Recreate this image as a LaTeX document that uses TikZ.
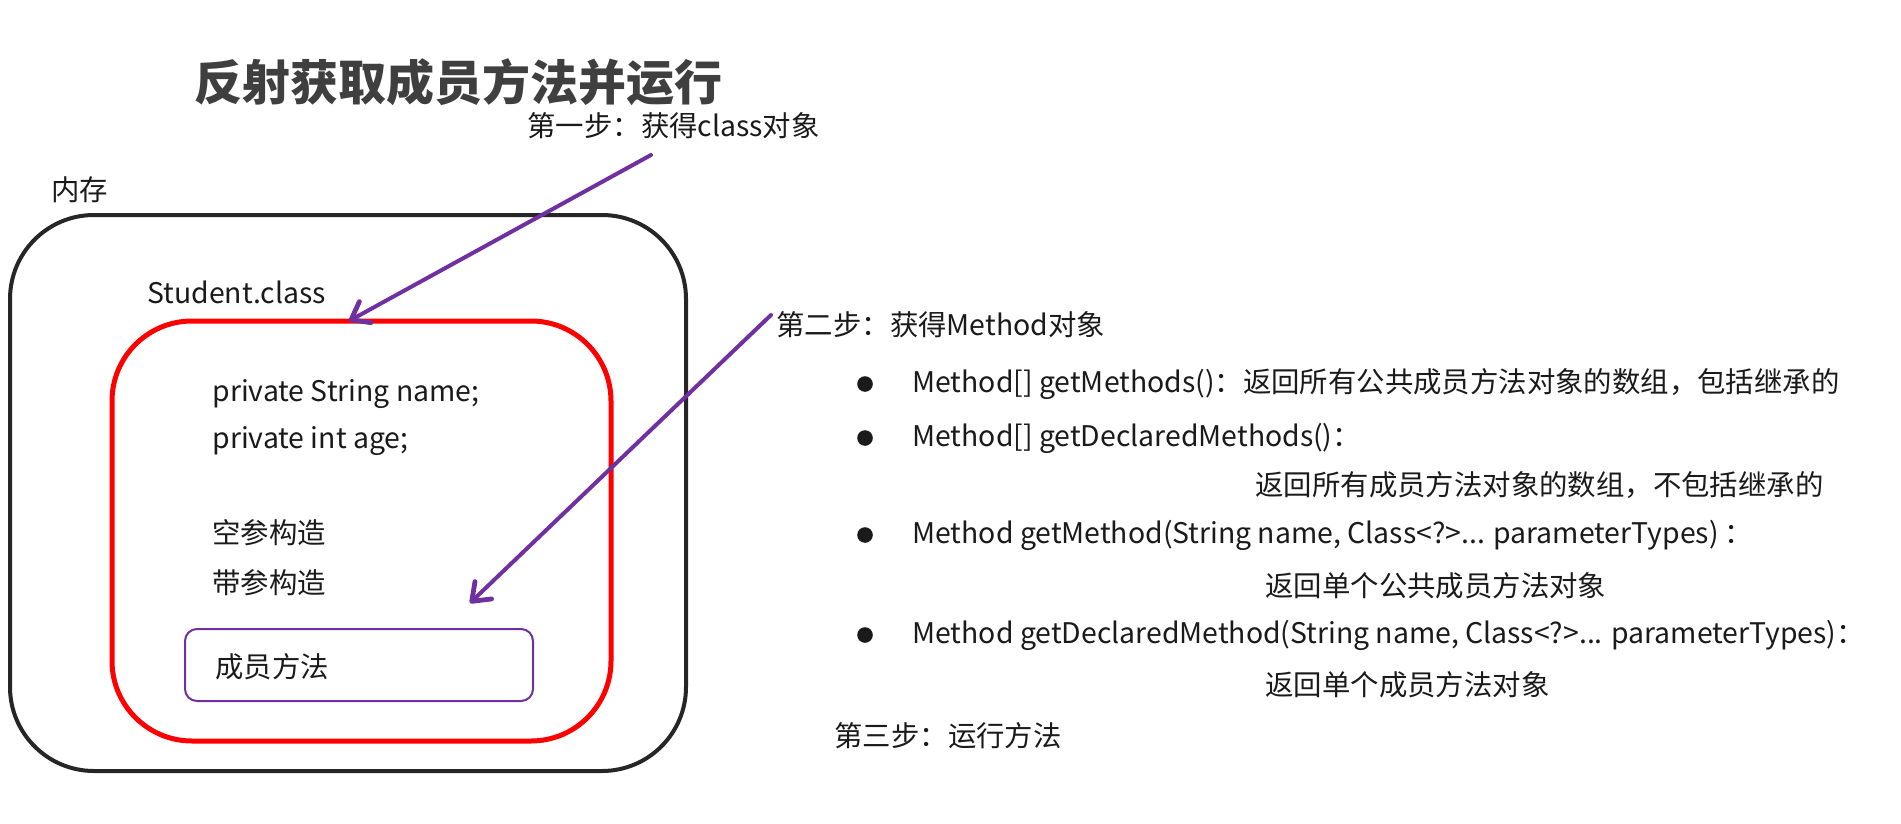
\documentclass[tikz,border=0pt]{standalone}
\usepackage{fontspec}
\setmainfont{Noto Sans CJK SC}
\usetikzlibrary{arrows.meta}
\definecolor{Mem_Black}{HTML}{262626}
\definecolor{Cls_Red}{HTML}{FF0000}
\definecolor{Step_Purple}{HTML}{7030A0}
\definecolor{Title_Gray}{HTML}{3F3F3F}
\definecolor{Txt_Black}{HTML}{1A1A1A}

\tikzset{
  txt/.style={anchor=west, inner sep=0pt, text=Txt_Black, font=\fontsize{14.2pt}{16pt}\selectfont},
  steparrow/.style={draw=Step_Purple, line width=2pt, line cap=round,
    -{Straight Barb[length=8pt,width=12pt,line width=2.4pt,round]}},
}

\begin{document}
\begin{tikzpicture}[x=0.5pt, y=-0.5pt]
    \useasboundingbox (0,0) rectangle (1901,824);

    % === Title ===
    \node[anchor=west, inner sep=0pt, text=Title_Gray, font=\fontsize{24pt}{28pt}\selectfont\bfseries] (title) at (194,82) {反射获取成员方法并运行};

    % === Memory box ===
    \node[txt] (memlabel) at (51,190) {内存};
    \draw[Mem_Black, line width=2pt, rounded corners=42pt] (10,215) rectangle (686,771);

    % === Student.class box ===
    \node[txt] (clslabel) at (147,292) {Student.class};
    \draw[Cls_Red, line width=2.5pt, rounded corners=40pt] (112,321) rectangle (611,741);
    \coordinate (clstop) at (349,321);

    \node[txt] (fname) at (212,394) {private String name;};
    \node[txt] (fage)  at (212,441) {private int age;};
    \node[txt] (cnone) at (212,533) {空参构造};
    \node[txt] (cargs) at (212,583) {带参构造};

    % member method box
    \draw[Step_Purple, line width=1pt, rounded corners=6pt] (185,629) rectangle (533,701);
    \node[txt] (method) at (215,667) {成员方法};
    \coordinate (methtop) at (470,603);

    % === Step 1 ===
    \node[txt] (step1) at (527,126) {第一步：获得class对象};
    \coordinate (s1) at (651,155);
    \draw[steparrow] (s1) -- (clstop);

    % === Step 2 ===
    \node[txt] (step2) at (776,325) {第二步：获得Method对象};
    \coordinate (s2) at (771,315);
    \draw[steparrow] (s2) -- (methtop);

    % bullets
    \foreach \y in {384,438,535,635}
        \fill[Txt_Black] (865,\y) circle (3.9pt);

    \node[txt] (getm)   at (912,384) {Method[] getMethods()：返回所有公共成员方法对象的数组，包括继承的};
    \node[txt] (getdm)  at (912,438) {Method[] getDeclaredMethods()：};
    \node[txt] (getdmd) at (1255,485) {返回所有成员方法对象的数组，不包括继承的};
    \node[txt] (get1)   at (912,535) {Method getMethod(String name, Class<?>... parameterTypes) ：};
    \node[txt] (get1d)  at (1265,586) {返回单个公共成员方法对象};
    \node[txt] (getd1)  at (912,635) {Method getDeclaredMethod(String name, Class<?>... parameterTypes)：};
    \node[txt] (getd1d) at (1265,685) {返回单个成员方法对象};

    % === Step 3 ===
    \node[txt] (step3) at (834,736) {第三步：运行方法};

\end{tikzpicture}
\end{document}
